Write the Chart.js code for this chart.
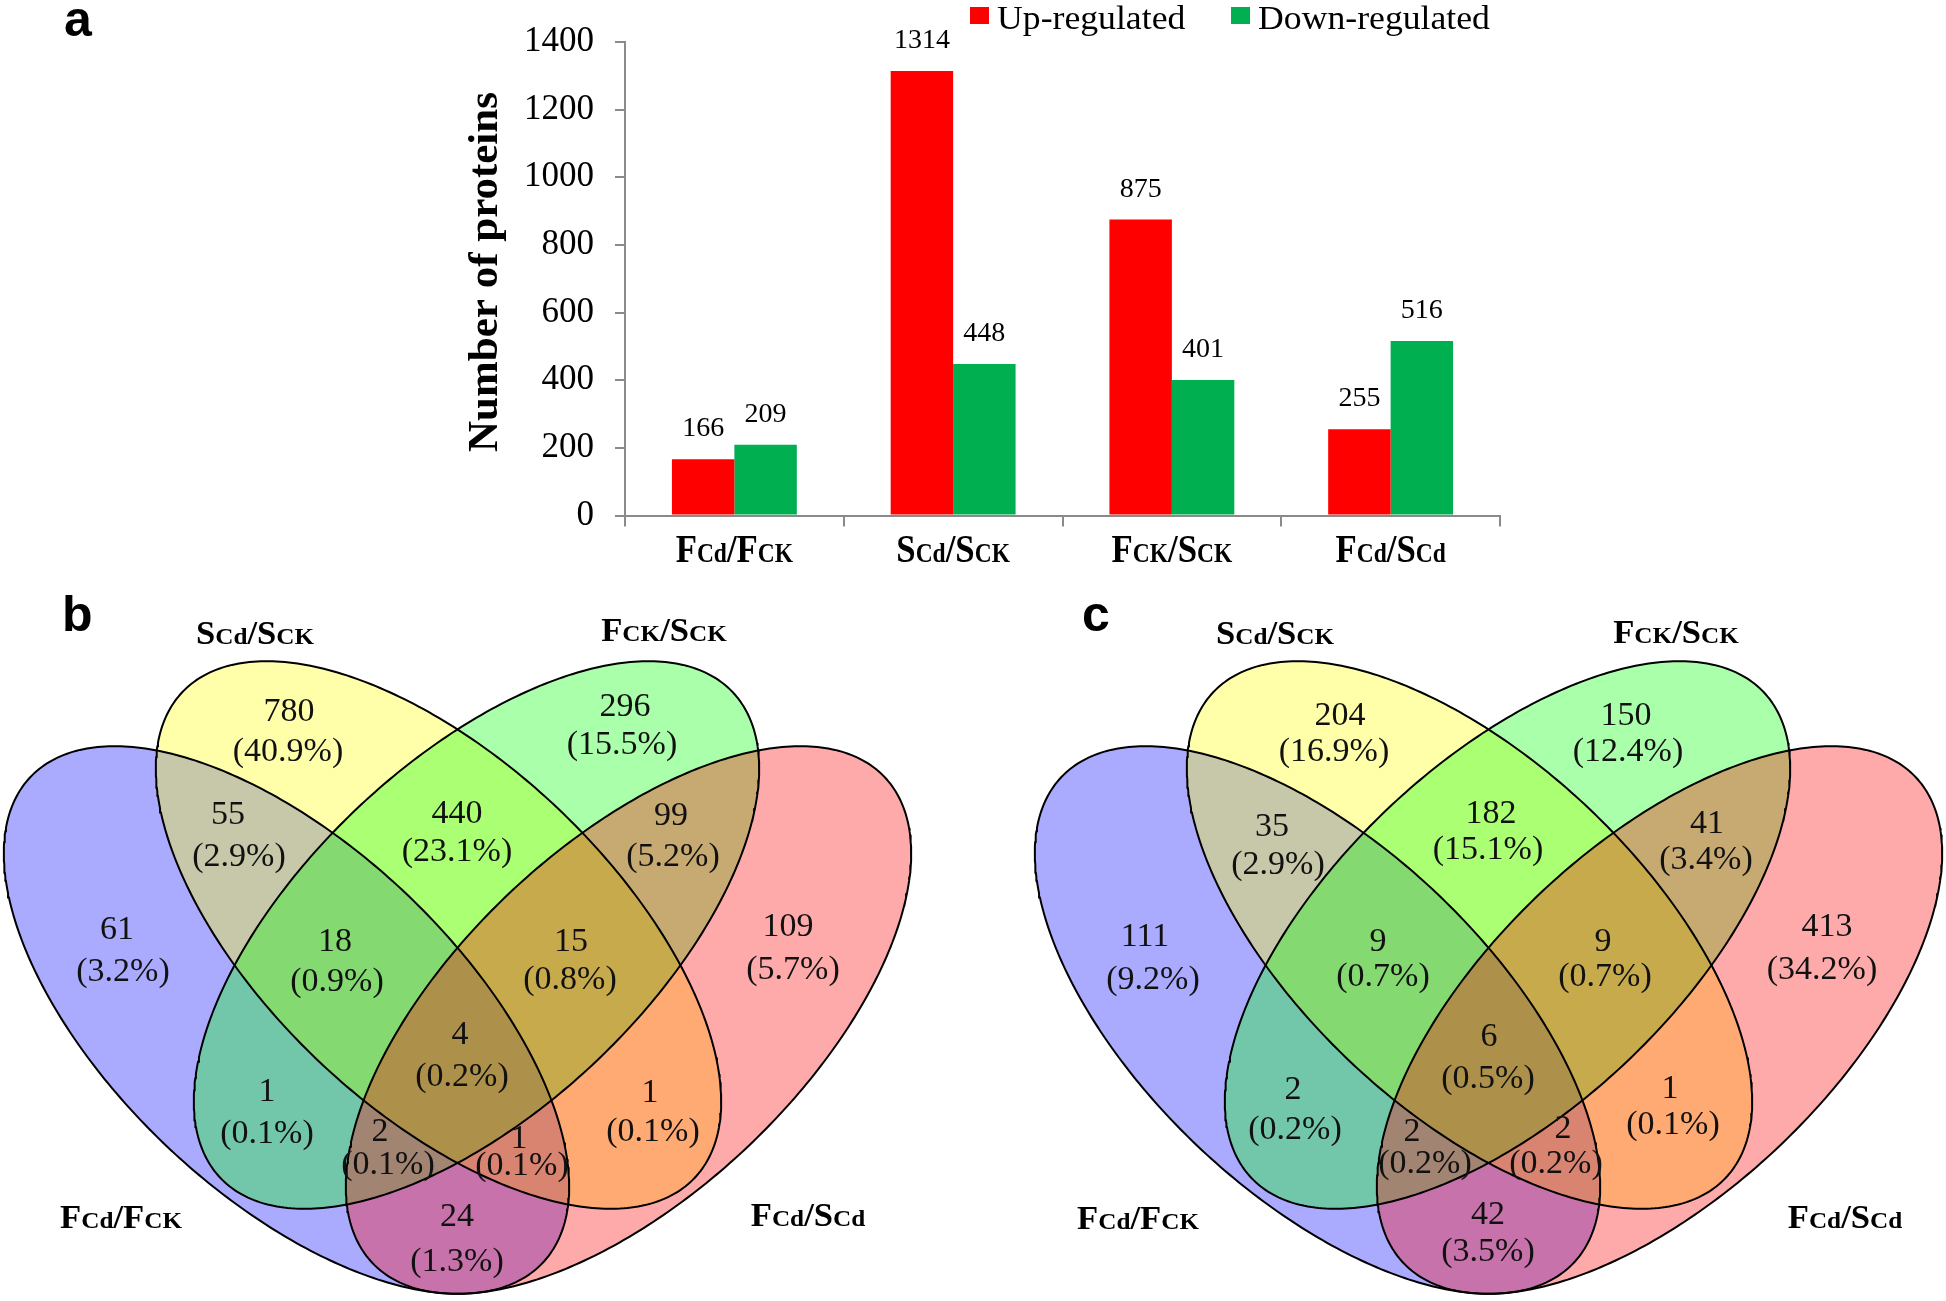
<!DOCTYPE html>
<html><head><meta charset="utf-8">
<script src="https://cdn.jsdelivr.net/npm/chart.js@4.4.1/dist/chart.umd.min.js"></script>
<style>
html,body{margin:0;padding:0;background:#fff;width:1946px;height:1301px;overflow:hidden;}
canvas{position:absolute;}
</style></head><body>
<canvas id="bar" width="1946" height="580" style="left:0px;top:0px"></canvas>
<canvas id="vennB" width="980" height="721" style="left:0px;top:580px"></canvas>
<canvas id="vennC" width="966" height="721" style="left:980px;top:580px"></canvas>
<script>
// ---------------- DATA ----------------
const categories = ['FCd/FCK', 'SCd/SCK', 'FCK/SCK', 'FCd/SCd'];
const seriesNames = ['Up-regulated', 'Down-regulated'];
const upRegulated = [166, 1314, 875, 255];
const downRegulated = [209, 448, 401, 516];
const yTicks = [0, 200, 400, 600, 800, 1000, 1200, 1400];
const yTitle = 'Number of proteins';

// Venn sets (order: blue, yellow, green, red)
const vennSets = ['FCd/FCK', 'SCd/SCK', 'FCK/SCK', 'FCd/SCd'];
// regions: Y, G, B, R, BY, YG, GR, BYG, YGR, BG, BYGR, YR, BGR, BYR, BR
const vennBCounts = [780, 296, 61, 109, 55, 440, 99, 18, 15, 1, 4, 1, 2, 1, 24];
const vennBPercents = ['40.9', '15.5', '3.2', '5.7', '2.9', '23.1', '5.2', '0.9', '0.8', '0.1', '0.2', '0.1', '0.1', '0.1', '1.3'];
const vennCCounts = [204, 150, 111, 413, 35, 182, 41, 9, 9, 2, 6, 1, 2, 2, 42];
const vennCPercents = ['16.9', '12.4', '9.2', '34.2', '2.9', '15.1', '3.4', '0.7', '0.7', '0.2', '0.5', '0.1', '0.2', '0.2', '3.5'];

// ---------------- LAYOUT / STYLE ----------------
const SERIF = '"Liberation Serif", "Times New Roman", serif';
const SANS = '"Liberation Sans", Arial, sans-serif';
const barColors = ['#FF0000', '#00B050'];
const axisColor = '#8a8a8a';

// ellipse geometry (x relative to diagram centre, y in page pixels)
const ELL_A = 353, ELL_B = 174, ELL_T = 43.5 * Math.PI / 180;
const ellipseGeom = [
  {cx: -171, cy: 1020, t: ELL_T},
  {cx: -19, cy: 935, t: ELL_T},
  {cx: 19, cy: 935, t: -ELL_T},
  {cx: 171, cy: 1020, t: -ELL_T}
];
const ellipseFills = ['rgba(0,0,255,0.335)', 'rgba(255,255,0,0.335)', 'rgba(0,255,0,0.335)', 'rgba(255,0,0,0.335)'];

// label anchor positions [countX, countY, pctX, pctY]
const vennBLabelPos = [
  [-168.5,721,-169.5,761],[167.5,716,164.5,754],[-340.5,939,-334.5,981],[330.5,936,335.5,979],
  [-229.5,824,-218.5,866],[-0.5,823,-0.5,861],[213.5,825,215.5,866],[-122.5,951,-120.5,991],
  [113.5,951,112.5,989],[-190.5,1101,-190.5,1143],[2.5,1044,4.5,1086],[192.5,1102,195.5,1141],
  [-77.5,1141,-69.5,1174],[61.5,1148,64.5,1175],[-0.5,1226,-0.5,1271]
];
const vennCLabelPos = [
  [-148.5,725,-154.5,761],[137.5,725,139.5,761],[-343.5,946,-335.5,989],[338.5,936,333.5,979],
  [-216.5,836,-210.5,874],[2.5,823,-0.5,859],[218.5,833,217.5,869],[-110.5,951,-105.5,986],
  [114.5,951,116.5,986],[-195.5,1099,-193.5,1139],[0.5,1046,-0.5,1088],[181.5,1098,184.5,1134],
  [-76.5,1141,-63.5,1173],[74.5,1138,67.5,1173],[-0.5,1224,-0.5,1261]
];
const vennBSetPos = [[-336.5,1228],[-202.5,644],[206.5,641],[350.5,1226]];
const vennCSetPos = [[-350.5,1229],[-213.5,644],[187.5,643],[356.5,1228]];

// ---------------- HELPERS ----------------
function drawMixed(ctx, label, cx, baseline, big, small, weight, sx) {
  const parts = [];
  label.split('/').forEach((seg, i) => {
    if (i > 0) parts.push({t: '/', s: big});
    parts.push({t: seg[0], s: big});
    if (seg.length > 1) parts.push({t: seg.slice(1), s: small});
  });
  ctx.save();
  let w = 0;
  parts.forEach(p => { ctx.font = weight + ' ' + p.s + 'px ' + SERIF; p.w = ctx.measureText(p.t).width; w += p.w; });
  ctx.translate(cx, baseline);
  ctx.scale(sx, 1);
  ctx.textAlign = 'left';
  ctx.textBaseline = 'alphabetic';
  ctx.fillStyle = '#000';
  let x = -w / 2;
  parts.forEach(p => { ctx.font = weight + ' ' + p.s + 'px ' + SERIF; ctx.fillText(p.t, x, 0); x += p.w; });
  ctx.restore();
}
function drawScaledText(ctx, text, x, y, font, sx, align) {
  ctx.save();
  ctx.font = font;
  ctx.translate(x, y);
  ctx.scale(sx, 1);
  ctx.textAlign = align || 'left';
  ctx.textBaseline = 'alphabetic';
  ctx.fillStyle = '#000';
  ctx.fillText(text, 0, 0);
  ctx.restore();
}

// ---------------- BAR CHART ----------------
const barDecor = {
  id: 'barDecor',
  afterDraw(chart) {
    const ctx = chart.ctx;
    const xs = chart.scales.x;
    // value labels
    chart.data.datasets.forEach((ds, di) => {
      const meta = chart.getDatasetMeta(di);
      meta.data.forEach((el, i) => {
        ctx.save();
        ctx.font = '28px ' + SERIF;
        ctx.fillStyle = '#000';
        ctx.textAlign = 'center';
        ctx.textBaseline = 'alphabetic';
        ctx.fillText(String(ds.data[i]), el.x, el.y - 23);
        ctx.restore();
      });
    });
    // category labels
    chart.data.labels.forEach((lab, i) => {
      drawMixed(ctx, lab, xs.getPixelForTick(i), 562, 40, 27, 'bold', 0.87);
    });
    // legend
    const legX = [970, 1231];
    chart.data.datasets.forEach((ds, di) => {
      ctx.save();
      ctx.fillStyle = ds.backgroundColor;
      ctx.fillRect(legX[di], 7, 19, 17);
      ctx.restore();
      drawScaledText(ctx, ds.label, legX[di] + 27, 29, '34px ' + SERIF, 1.05, 'left');
    });
    // y title
    ctx.save();
    ctx.translate(497, 272);
    ctx.rotate(-Math.PI / 2);
    ctx.font = 'bold 43px ' + SERIF;
    ctx.fillStyle = '#000';
    ctx.textAlign = 'center';
    ctx.textBaseline = 'alphabetic';
    ctx.fillText(yTitle, 0, 0);
    ctx.restore();
    // panel letter
    ctx.save();
    ctx.font = 'bold 50px ' + SANS;
    ctx.fillStyle = '#000';
    ctx.textBaseline = 'alphabetic';
    ctx.fillText('a', 64, 36);
    ctx.restore();
  }
};

new Chart(document.getElementById('bar'), {
  type: 'bar',
  data: {
    labels: categories,
    datasets: [
      {label: seriesNames[0], data: upRegulated, backgroundColor: barColors[0], categoryPercentage: 0.571, barPercentage: 1},
      {label: seriesNames[1], data: downRegulated, backgroundColor: barColors[1], categoryPercentage: 0.571, barPercentage: 1}
    ]
  },
  options: {
    responsive: false,
    animation: false,
    devicePixelRatio: 1,
    layout: {padding: {left: 0, right: 446, top: 30, bottom: 4.5}},
    plugins: {legend: {display: false}, tooltip: {enabled: false}},
    scales: {
      x: {
        offset: true,
        grid: {display: true, offset: true, drawOnChartArea: false, drawTicks: true, tickLength: 11, color: axisColor, lineWidth: 2},
        border: {display: true, color: axisColor, width: 2},
        ticks: {color: 'rgba(0,0,0,0)', font: {size: 10}},
        afterFit: s => { s.height = 60; }
      },
      y: {
        min: 0, max: 1400,
        afterBuildTicks: s => { s.ticks = yTicks.map(v => ({value: v})); },
        ticks: {color: '#000', font: {family: SERIF, size: 35}, padding: 21, callback: v => String(v)},
        grid: {display: true, drawOnChartArea: false, drawTicks: true, tickLength: 10, color: axisColor, lineWidth: 2},
        border: {display: true, color: axisColor, width: 2},
        afterFit: s => { s.width = 625; }
      }
    }
  },
  plugins: [barDecor]
});

// ---------------- VENN CHARTS ----------------
function ellipsePoints(g) {
  const pts = [];
  const n = 360;
  for (let k = 0; k <= n; k++) {
    const t = 2 * Math.PI * k / n;
    pts.push({
      x: g.cx + ELL_A * Math.cos(t) * Math.cos(g.t) - ELL_B * Math.sin(t) * Math.sin(g.t),
      y: g.cy + ELL_A * Math.cos(t) * Math.sin(g.t) + ELL_B * Math.sin(t) * Math.cos(g.t)
    });
  }
  return pts;
}

function makeVenn(id, letter, letterX, xMin, xMax, counts, pcts, pos, setPos) {
  const fillPlugin = {
    id: 'vennFill',
    beforeDatasetsDraw(chart) {
      const ctx = chart.ctx;
      chart.data.datasets.forEach((ds, i) => {
        const meta = chart.getDatasetMeta(i);
        ctx.save();
        ctx.beginPath();
        meta.data.forEach((el, k) => { if (k === 0) ctx.moveTo(el.x, el.y); else ctx.lineTo(el.x, el.y); });
        ctx.closePath();
        ctx.fillStyle = ellipseFills[i];
        ctx.fill();
        ctx.restore();
      });
    },
    afterDatasetsDraw(chart) {
      const ctx = chart.ctx;
      const xs = chart.scales.x, ys = chart.scales.y;
      counts.forEach((c, i) => {
        const p = pos[i];
        ctx.save();
        ctx.font = '34px ' + SERIF;
        ctx.fillStyle = '#111';
        ctx.textAlign = 'center';
        ctx.textBaseline = 'alphabetic';
        ctx.fillText(String(c), xs.getPixelForValue(p[0]), ys.getPixelForValue(p[1]));
        ctx.fillText('(' + pcts[i] + '%)', xs.getPixelForValue(p[2]), ys.getPixelForValue(p[3]));
        ctx.restore();
      });
      vennSets.forEach((name, i) => {
        drawMixed(ctx, name, xs.getPixelForValue(setPos[i][0]), ys.getPixelForValue(setPos[i][1]), 33, 24, 'bold', 1.05);
      });
      ctx.save();
      ctx.font = 'bold 50px ' + SANS;
      ctx.fillStyle = '#000';
      ctx.textBaseline = 'alphabetic';
      ctx.fillText(letter, letterX, ys.getPixelForValue(631));
      ctx.restore();
    }
  };
  new Chart(document.getElementById(id), {
    type: 'scatter',
    data: {
      datasets: ellipseGeom.map((g, i) => ({
        label: vennSets[i],
        data: ellipsePoints(g),
        showLine: true,
        fill: false,
        pointRadius: 0,
        borderColor: '#000',
        borderWidth: 2,
        tension: 0,
        clip: false
      }))
    },
    options: {
      responsive: false,
      animation: false,
      devicePixelRatio: 1,
      layout: {padding: 0},
      plugins: {legend: {display: false}, tooltip: {enabled: false}},
      scales: {
        x: {type: 'linear', min: xMin, max: xMax, display: false},
        y: {type: 'linear', min: 580, max: 1301, reverse: true, display: false}
      }
    },
    plugins: [fillPlugin]
  });
}

makeVenn('vennB', 'b', 62, -457.5, 522.5, vennBCounts, vennBPercents, vennBLabelPos, vennBSetPos);
makeVenn('vennC', 'c', 102, -508.5, 457.5, vennCCounts, vennCPercents, vennCLabelPos, vennCSetPos);
</script>
</body></html>
